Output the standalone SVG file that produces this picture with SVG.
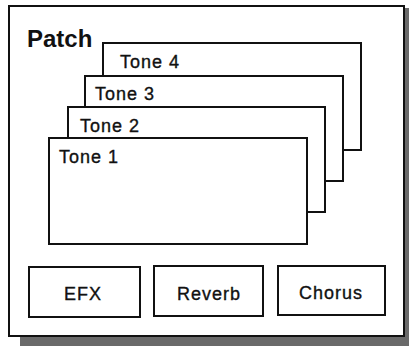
<svg xmlns="http://www.w3.org/2000/svg" width="409" height="346" viewBox="0 0 409 346">
<style>
.box{fill:#fff;stroke:#111;stroke-width:2}
.lbl{font-family:"Liberation Sans",Arial,sans-serif;font-size:18px;fill:#111;stroke:#111;stroke-width:0.35;letter-spacing:1px}
.title{font-family:"Liberation Sans",Arial,sans-serif;font-size:24px;font-weight:bold;fill:#111}
.shadow{fill:#6a6a6a}
</style>
<rect width="409" height="346" fill="#fff"/>
<g id="patch">
<rect class="shadow" x="20" y="336" width="389" height="10"/>
<rect class="shadow" x="403" y="8" width="6" height="338"/>
<rect class="box" x="9" y="6" width="395" height="330"/>
<text class="title" x="27" y="47">Patch</text>
</g>
<g id="tone4">
<rect class="box" x="103" y="43" width="258" height="107"/>
<text class="lbl" x="120" y="68">Tone 4</text>
</g>
<g id="tone3">
<rect class="box" x="85" y="76" width="258" height="105"/>
<text class="lbl" x="95" y="100">Tone 3</text>
</g>
<g id="tone2">
<rect class="box" x="68" y="107" width="257" height="105"/>
<text class="lbl" x="80" y="132">Tone 2</text>
</g>
<g id="tone1">
<rect class="box" x="49" y="138" width="258" height="106"/>
<text class="lbl" x="59" y="163">Tone 1</text>
</g>
<g id="efx">
<rect class="box" x="29" y="267" width="111" height="50"/>
<text class="lbl" x="83" y="300" text-anchor="middle">EFX</text>
</g>
<g id="reverb">
<rect class="box" x="154" y="266" width="109" height="50"/>
<text class="lbl" x="209" y="300" text-anchor="middle">Reverb</text>
</g>
<g id="chorus">
<rect class="box" x="278" y="266" width="107" height="49"/>
<text class="lbl" x="331" y="299" text-anchor="middle">Chorus</text>
</g>
<g id="connectors"/>
</svg>
